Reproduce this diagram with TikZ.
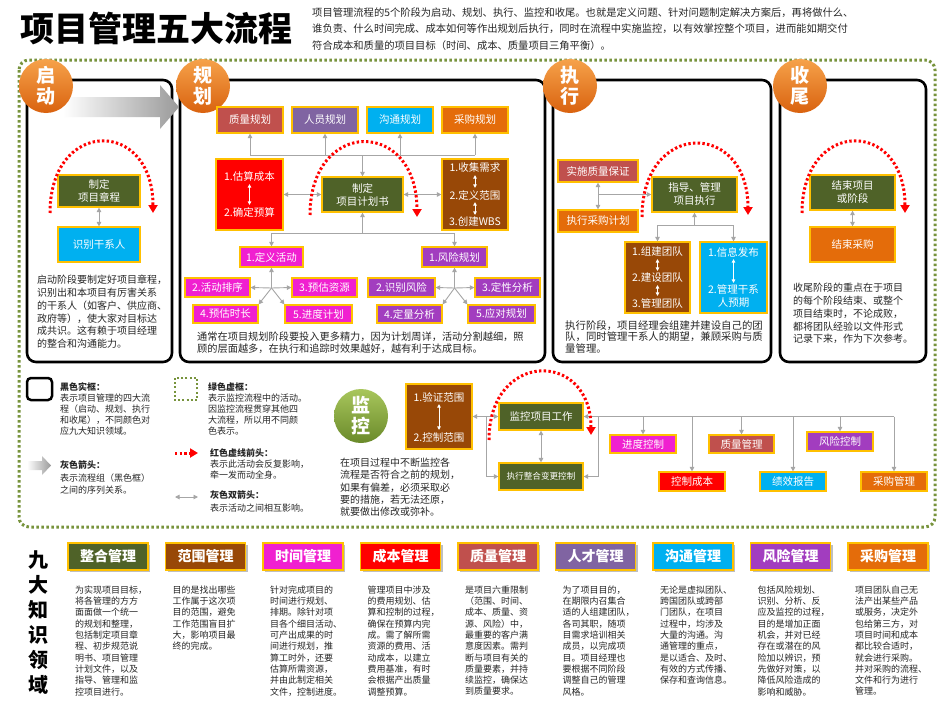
\documentclass[tikz,border=0pt]{standalone}
\usepackage{fontspec}
\setmainfont{Noto Sans CJK SC}
\usetikzlibrary{arrows.meta}
\definecolor{olv}{HTML}{4F6228}
\definecolor{gold}{HTML}{FFC000}
\definecolor{brn}{HTML}{984807}
\definecolor{rose}{HTML}{C0504D}
\definecolor{purp}{HTML}{8064A2}
\definecolor{cyn}{HTML}{00B0F0}
\definecolor{orng}{HTML}{E46C0A}
\definecolor{mag}{HTML}{F020D0}
\definecolor{rsk}{HTML}{A23DBF}
\definecolor{lgray}{HTML}{A6A6A6}
\definecolor{agray}{HTML}{9A9A9A}
\definecolor{grnframe}{HTML}{77933C}
\definecolor{ortop}{HTML}{F6A24A}
\definecolor{orbot}{HTML}{D9620F}
\definecolor{gntop}{HTML}{A8C65C}
\definecolor{gnbot}{HTML}{6A8A2A}
\definecolor{redd}{HTML}{FF0000}
\newcommand\mbx[8][]{\node[box,fill=#7,minimum width={(#5-#3)*1pt},minimum height={(#6-#4)*1pt},#1] (#2) at ({(#3+#5)/2},{(#4+#6)/2}) {#8};}
\newcommand\kn[5]{\pgfmathsetmacro\kl{68+97.5*#1}\fill[black!25] (\kl+2,545) rectangle (\kl+82,572);\mbx[hdr]{h#2}{\kl}{543}{\kl+80}{570}{#3}{#4}\node[txt,font=\fontsize{9}{11.3}\selectfont] (d#2) at (\kl+7,585.5) {#5};}
\begin{document}
\begin{tikzpicture}[x=1pt,y=-1pt,
 box/.style={draw=gold, line width=1.2pt, text=white, align=center, inner sep=0pt, font=\fontsize{10.5}{13}\selectfont},
 hdr/.style={font=\fontsize{14}{16}\selectfont\bfseries, line width=1.6pt},
 inl/.style={text=white, inner sep=0pt, align=center, font=\fontsize{10.5}{13}\selectfont},
 phase/.style={draw=black, line width=2.6pt, rounded corners=9pt},
 gl/.style={draw=lgray, line width=0.9pt},
 ga/.style={gl, -{Triangle[length=4.5pt,width=4.5pt]}},
 gd/.style={gl, {Triangle[length=4.5pt,width=4.5pt]}-{Triangle[length=4.5pt,width=4.5pt]}},
 wd/.style={draw=white, line width=0.9pt, shorten <=2pt, shorten >=2pt, {Triangle[length=3.5pt,width=3.5pt]}-{Triangle[length=3.5pt,width=3.5pt]}},
 redarc/.style={draw=redd, line width=3pt, dash pattern=on 2.4pt off 2.3pt, line cap=butt, -{Triangle[length=8pt,width=9pt]}},
 txt/.style={align=left, inner sep=0pt, anchor=north west, font=\fontsize{10}{12.8}\selectfont, text=black!85},
 lg/.style={txt, font=\fontsize{9}{11}\selectfont},
 ptitle/.style={text=white, inner sep=0pt, align=center, font=\fontsize{19}{21}\selectfont\bfseries},
]
\fill[white] (0,0) rectangle (950,712);
\useasboundingbox (0,0) rectangle (950,712);

% title
\node[anchor=west, inner sep=0pt, font=\fontsize{34}{40}\selectfont\bfseries] (title) at (20,28) {项目管理五大流程};
\node[anchor=north west, inner sep=0pt, align=left, font=\fontsize{10.3}{16.5}\selectfont, text=black!85] (desc) at (312,7.5) {项目管理流程的5个阶段为启动、规划、执行、监控和收尾。也就是定义问题、针对问题制定解决方案后，再将做什么、\\谁负责、什么时间完成、成本如何等作出规划后执行，同时在流程中实施监控，以有效掌控整个项目，进而能如期交付\\符合成本和质量的项目目标（时间、成本、质量项目三角平衡）。};

% outer green dotted frame
\draw[grnframe, line width=3pt, dash pattern=on 2.5pt off 2.5pt, rounded corners=10pt] (19,60) rectangle (935,527);

% phase boxes
\draw[phase] (27,80) rectangle (172,362);
\draw[phase] (180,80) rectangle (545,362);
\draw[phase] (553,80) rectangle (771,362);
\draw[phase] (780,80) rectangle (926,362);

% gray arrow
\shade[left color=white, right color=agray] (63,97) -- (160,97) -- (160,85) -- (179,107) -- (160,129) -- (160,117) -- (63,117) -- cycle;

% phase circles
\shade[top color=ortop, bottom color=orbot] (46,86) circle (27);
\node[ptitle] (cqd) at (46,86) {启\\动};
\shade[top color=ortop, bottom color=orbot] (203,86) circle (27);
\node[ptitle] (cgh) at (203,86) {规\\划};
\shade[top color=ortop, bottom color=orbot] (570,86) circle (27);
\node[ptitle] (czx) at (570,86) {执\\行};
\shade[top color=ortop, bottom color=orbot] (800,86) circle (27);
\node[ptitle] (csw) at (800,86) {收\\尾};

% ===== 启动
\mbx{n11}{58}{175}{140}{207}{olv}{制定\\项目章程}
\mbx{n12}{58}{227}{140}{262}{cyn}{识别干系人}
\draw[gd] (n11.south) -- (n12.north);
\node[txt] (tqd) at (37,275) {启动阶段要制定好项目章程，\\识别出和本项目有厉害关系\\的干系人（如客户、供应商、\\政府等），使大家对目标达\\成共识。这有赖于项目经理\\的整合和沟通能力。};

% ===== 规划
\mbx{q1}{217}{107}{283}{133}{rose}{质量规划}
\mbx{q2}{292}{107}{358}{133}{purp}{人员规划}
\mbx{q3}{367}{107}{433}{133}{cyn}{沟通规划}
\mbx{q4}{442}{107}{508}{133}{orng}{采购规划}
\mbx{p0}{322}{177}{403}{212}{olv}{制定\\项目计划书}
\mbx{pr}{216}{159}{283}{230}{redd}{}
\node[inl] (pr1) at (249.5,177) {1.估算成本};
\node[inl] (pr2) at (249.5,212) {2.确定预算};
\draw[wd] (pr1.south) -- (pr2.north);
\mbx{pb}{442}{159}{508}{230}{brn}{}
\node[inl] (pb1) at (475,168) {1.收集需求};
\node[inl] (pb2) at (475,195) {2.定义范围};
\node[inl] (pb3) at (475,222) {3.创建WBS};
\draw[wd] (pb1.south) -- (pb2.north);
\draw[wd] (pb2.south) -- (pb3.north);
\coordinate (qj) at (362.5,155);
\draw[gl] (q1.south |- qj) -- (q4.south |- qj);
\foreach \q in {q1,q2,q3,q4} \draw[ga] (\q.south |- qj) -- (\q.south);
\draw[ga] (qj) -- (p0.north);
\draw[gd] (pr.east) -- (p0.west);
\draw[gd] (p0.east) -- (pb.west);
\mbx{t1}{240}{247}{303}{267}{mag}{1.定义活动}
\mbx{t2}{185}{278}{250}{297}{mag}{2.活动排序}
\mbx{t3}{292}{278}{357}{297}{mag}{3.预估资源}
\mbx{t4}{193}{305}{258}{323}{mag}{4.预估时长}
\mbx{t5}{285}{305}{352}{323}{mag}{5.进度计划}
\mbx{r1}{422}{247}{487}{267}{rsk}{1.风险规划}
\mbx{r2}{368}{278}{435}{297}{rsk}{2.识别风险}
\mbx{r3}{475}{278}{540}{297}{rsk}{3.定性分析}
\mbx{r4}{377}{305}{442}{323}{rsk}{4.定量分析}
\mbx{r5}{468}{305}{535}{323}{rsk}{5.应对规划}
\coordinate (qk) at (362.5,233);
\draw[ga] (qk) -- (p0.south);
\draw[gl] (t1.north |- qk) -- (r1.north |- qk);
\draw[ga] (t1.north |- qk) -- (t1.north);
\draw[ga] (r1.north |- qk) -- (r1.north);
\coordinate (tj) at (271.5,288);
\draw[ga] (tj) -- (t1.south);
\draw[ga] (tj) -- (t2.east);
\draw[ga] (tj) -- (t3.west);
\draw[ga] (tj) -- (t4.north east);
\draw[ga] (tj) -- (t5.north west);
\coordinate (rj) at (454.5,288);
\draw[ga] (rj) -- (r1.south);
\draw[ga] (rj) -- (r2.east);
\draw[ga] (rj) -- (r3.west);
\draw[ga] (rj) -- (r4.north east);
\draw[ga] (rj) -- (r5.north west);
\node[txt, font=\fontsize{10.2}{12}\selectfont] (tgh) at (197,332) {通常在项目规划阶段要投入更多精力，因为计划周详，活动分割越细，照\\顾的层面越多，在执行和追踪时效果越好，越有利于达成目标。};

% ===== 执行
\mbx{e1}{558}{160}{638}{182}{rose}{实施质量保证}
\mbx{e2}{558}{210}{638}{232}{orng}{执行采购计划}
\mbx{e0}{652}{177}{737}{212}{olv}{指导、管理\\项目执行}
\coordinate (ej) at (598,194.5);
\draw[gd] (e1.south) -- (e2.north);
\draw[ga] (ej) -- (e0.west);
\mbx{e3}{625}{242}{690}{313}{brn}{}
\node[inl] (e31) at (657.5,252) {1.组建团队};
\node[inl] (e32) at (657.5,278) {2.建设团队};
\node[inl] (e33) at (657.5,303) {3.管理团队};
\draw[wd] (e31.south) -- (e32.north);
\draw[wd] (e32.south) -- (e33.north);
\mbx{e4}{700}{242}{767}{313}{cyn}{}
\node[inl] (e41) at (733.5,252) {1.信息发布};
\node[inl] (e42) at (733.5,296.5) {2.管理干系\\人预期};
\draw[wd] (e41.south) -- (e42.north);
\coordinate (ek) at (694.5,225);
\draw[ga] (ek) -- (e0.south);
\draw[gl] (e3.north |- ek) -- (e4.north |- ek);
\draw[ga] (e3.north |- ek) -- (e3.north);
\draw[ga] (e4.north |- ek) -- (e4.north);
\node[txt, font=\fontsize{10.4}{11.8}\selectfont] (tzx) at (565,320) {执行阶段，项目经理会组建并建设自己的团\\队，同时管理干系人的期望，兼顾采购与质\\量管理。};

% ===== 收尾
\mbx{c1}{810}{175}{895}{210}{olv}{结束项目\\或阶段}
\mbx{c2}{810}{227}{895}{262}{orng}{结束采购}
\draw[gd] (c1.south) -- (c2.north);
\node[txt] (tsw) at (793,283) {收尾阶段的重点在于项目\\的每个阶段结束、或整个\\项目结束时，不论成败，\\都将团队经验以文件形式\\记录下来，作为下次参考。};

% ===== legend
\draw[line width=2.5pt, rounded corners=4pt] (27,378) rectangle (52,400);
\node[lg] (l1) at (60,382.5) {{\bfseries 黑色实框：}\\表示项目管理的四大流\\程（启动、规划、执行\\和收尾），不同颜色对\\应九大知识领域。};
\shade[left color=white, right color=agray] (27,461) -- (42,461) -- (42,456) -- (51,465.5) -- (42,475) -- (42,470) -- (27,470) -- cycle;
\node[lg, font=\fontsize{9}{12.5}\selectfont] (l2) at (60,460.5) {{\bfseries 灰色箭头：}\\表示流程组（黑色框）\\之间的序列关系。};
\draw[grnframe, line width=2.5pt, dash pattern=on 2pt off 2.2pt] (175,378) rectangle (197,400);
\node[lg] (l3) at (208,382.5) {{\bfseries 绿色虚框：}\\表示监控流程中的活动。\\因监控流程贯穿其他四\\大流程，所以用不同颜\\色表示。};
\coordinate (la1) at (175,453);
\coordinate (la2) at (198,453);
\draw[redarc] (la1) -- (la2);
\node[lg] (l4) at (210,448.5) {{\bfseries 红色虚线前头：}\\表示此活动会反复影响，\\牵一发而动全身。};
\coordinate (lb1) at (175,497);
\coordinate (lb2) at (198,497);
\draw[gd] (lb1) -- (lb2);
\node[lg, font=\fontsize{9}{12.5}\selectfont] (l5) at (210,490.5) {{\bfseries 灰色双箭头：}\\表示活动之间相互影响。};

% ===== 监控
\shade[top color=gntop, bottom color=gnbot] (361,416) circle (27);
\node[ptitle] (cjk) at (361,416) {监\\控};
\mbx{m1}{406}{384}{472}{449}{brn}{}
\node[inl] (m11) at (439,397) {1.验证范围};
\node[inl] (m12) at (439,437) {2.控制范围};
\draw[wd] (m11.south) -- (m12.north);
\mbx{m0}{499}{403}{583}{430}{olv}{监控项目工作}
\mbx[font=\fontsize{8.6}{10}\selectfont]{m2}{499}{463}{583}{490}{olv}{执行整合变更控制}
\mbx{k1}{610}{435}{676}{453}{mag}{进度控制}
\mbx{k2}{709}{435}{774}{453}{rose}{质量管理}
\mbx{k3}{807}{432}{873}{451}{rsk}{风险控制}
\mbx{k4}{659}{472}{725}{491}{redd}{控制成本}
\mbx{k5}{760}{472}{826}{491}{cyn}{绩效报告}
\mbx{k6}{861}{472}{927}{491}{orng}{采购管理}
\coordinate (mj) at (486,416.5);
\coordinate (mk) at (598,416.5);
\coordinate (mr) at (894,416.5);
\draw[gd] (m1.east) -- (m0.west);
\draw[ga] (mj) |- (m2.west);
\draw[gd] (m0.south) -- (m2.north);
\draw[ga] (mr) -- (m0.east);
\draw[ga] (mk) |- (m2.east);
\foreach \k in {k1,k2,k3,k4,k5,k6} \draw[ga] (\k.north |- mr) -- (\k.north);
\node[txt, font=\fontsize{10}{12.3}\selectfont] (tjk) at (340,458) {在项目过程中不断监控各\\流程是否符合之前的规划，\\如果有偏差，必须采取必\\要的措施，若无法还原，\\就要做出修改或弥补。};

% red arcs
\draw[redarc] (50,213) .. controls (50,118) and (153,118) .. (153,213);
\draw[redarc] (310,215) .. controls (310,118) and (417,118) .. (417,217);
\draw[redarc] (642,217) .. controls (642,120) and (748,120) .. (748,215);
\draw[redarc] (802,213) .. controls (802,118) and (905,118) .. (905,213);
\draw[redarc] (489,440) .. controls (489,350) and (591,350) .. (591,435);

% ===== nine knowledge areas
\node[inner sep=0pt, align=center, font=\fontsize{20}{25}\selectfont\bfseries] (nine) at (38,622.5) {九\\大\\知\\识\\领\\域};
\kn{0}{zh}{olv}{整合管理}{为实现项目目标，\\将各管理的方方\\面面做一个统一\\的规划和整理，\\包括制定项目章\\程、初步规范说\\明书、项目管理\\计划文件，以及\\指导、管理和监\\控项目进行。}
\kn{1}{fw}{brn}{范围管理}{目的是找出哪些\\工作属于这次项\\目的范围，避免\\工作范围盲目扩\\大，影响项目最\\终的完成。}
\kn{2}{sj}{mag}{时间管理}{针对完成项目的\\时间进行规划、\\排期。除针对项\\目各个细目活动、\\可产出成果的时\\间进行规划，推\\算工时外，还要\\估算所需资源，\\并由此制定相关\\文件，控制进度。}
\kn{3}{cb}{redd}{成本管理}{管理项目中涉及\\的费用规划、估\\算和控制的过程，\\确保在预算内完\\成。需了解所需\\资源的费用、活\\动成本，以建立\\费用基准，有时\\会根据产出质量\\调整预算。}
\kn{4}{zl}{rose}{质量管理}{是项目六重限制\\（范围、时间、\\成本、质量、资\\源、风险）中，\\最重要的客户满\\意度因素。需判\\断与项目有关的\\质量要素，并持\\续监控，确保达\\到质量要求。}
\kn{5}{rc}{purp}{人才管理}{为了项目目的，\\在期限内召集合\\适的人组建团队，\\各司其职，随项\\目需求培训相关\\成员，以完成项\\目。项目经理也\\要根据不同阶段\\调整自己的管理\\风格。}
\kn{6}{gt}{cyn}{沟通管理}{无论是虚拟团队、\\跨国团队或跨部\\门团队，在项目\\过程中，均涉及\\大量的沟通。沟\\通管理的重点，\\是以适合、及时、\\有效的方式传播、\\保存和查询信息。}
\kn{7}{fx}{rsk}{风险管理}{包括风险规划、\\识别、分析、反\\应及监控的过程，\\目的是增加正面\\机会，并对已经\\存在或潜在的风\\险加以辨识，预\\先做好对策，以\\降低风险造成的\\影响和威胁。}
\kn{8}{cg}{orng}{采购管理}{项目团队自己无\\法产出某些产品\\或服务，决定外\\包给第三方，对\\项目时间和成本\\都比较合适时，\\就会进行采购。\\并对采购的流程、\\文件和行为进行\\管理。}
\end{tikzpicture}
\end{document}
